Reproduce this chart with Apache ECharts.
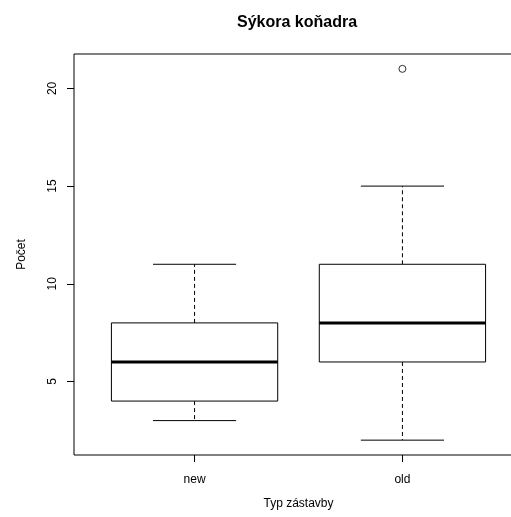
<!DOCTYPE html>
<html>
<head>
<meta charset="utf-8">
<script src="https://cdn.jsdelivr.net/npm/echarts@6/dist/echarts.min.js"></script>
<style>
  html, body { margin: 0; padding: 0; background: #fff; }
  #chart { width: 511px; height: 517px; }
</style>
</head>
<body>
<div id="chart"></div>
<script>
// Building types on the x axis
const categories = ['new', 'old'];
// Five-number summaries per group: [min, Q1, median, Q3, max]
const boxStats = [
  [3, 4, 6, 8, 11],
  [2, 6, 8, 11, 15]
];
// Outlying observations: [group index, value]
const outliers = [[1, 21]];
// Tick positions on the count axis
const yTicks = [5, 10, 15, 20];

const FONT = 'Liberation Sans, Arial, sans-serif';

const boxData = boxStats.map((s, i) => [i + 1].concat(s));
const outlierData = outliers.map(o => [o[0] + 1, o[1]]);

function renderBox(params, api) {
  const x = api.value(0);
  const vmin = api.value(1), q1 = api.value(2), med = api.value(3), q3 = api.value(4), vmax = api.value(5);
  const half = 0.4, capHalf = 0.2;
  const pL = api.coord([x - half, q1]);
  const pR = api.coord([x + half, q3]);
  const c = api.coord([x, med]);
  const cL = api.coord([x - capHalf, vmin])[0];
  const cR = api.coord([x + capHalf, vmin])[0];
  const yMin = api.coord([x, vmin])[1];
  const yMax = api.coord([x, vmax])[1];
  const yQ1 = pL[1], yQ3 = pR[1];
  const dashed = { stroke: '#000', lineWidth: 1, lineDash: [4, 3] };
  const solid = { stroke: '#000', lineWidth: 1 };
  return {
    type: 'group',
    children: [
      { type: 'line', shape: { x1: c[0], y1: yQ3, x2: c[0], y2: yMax }, style: dashed },
      { type: 'line', shape: { x1: c[0], y1: yQ1, x2: c[0], y2: yMin }, style: dashed },
      { type: 'line', shape: { x1: cL, y1: yMax, x2: cR, y2: yMax }, style: solid },
      { type: 'line', shape: { x1: cL, y1: yMin, x2: cR, y2: yMin }, style: solid },
      { type: 'rect', shape: { x: pL[0], y: yQ3, width: pR[0] - pL[0], height: yQ1 - yQ3 },
        style: { fill: '#fff', stroke: '#000', lineWidth: 1 } },
      { type: 'line', shape: { x1: pL[0], y1: c[1], x2: pR[0], y2: c[1] },
        style: { stroke: '#000', lineWidth: 3 } }
    ]
  };
}

const chart = echarts.init(document.getElementById('chart'), null, { renderer: 'canvas' });
chart.setOption({
  animation: false,
  backgroundColor: '#fff',
  graphic: [{
    type: 'text',
    x: 297,
    y: 23,
    style: {
      text: 'Sýkora koňadra',
      align: 'center',
      verticalAlign: 'middle',
      font: 'bold 16px Liberation Sans, Arial, sans-serif',
      fill: '#000'
    }
  }],
  grid: {
    left: 74, top: 54, width: 449, height: 401,
    outerBoundsMode: 'none',
    containLabel: false,
    show: true, borderColor: '#000', borderWidth: 1, backgroundColor: 'transparent'
  },
  xAxis: {
    type: 'value',
    min: 0.42, max: 2.58,
    name: 'Typ zástavby',
    nameLocation: 'middle',
    nameGap: 43,
    nameTextStyle: { fontFamily: FONT, fontSize: 12, color: '#000' },
    splitLine: { show: false },
    axisLine: { show: false },
    axisTick: { show: true, customValues: [1, 2], length: 7, lineStyle: { color: '#000' } },
    axisLabel: {
      customValues: [1, 2],
      formatter: v => categories[Math.round(v) - 1],
      margin: 19,
      fontFamily: FONT, fontSize: 12, color: '#000'
    }
  },
  yAxis: {
    type: 'value',
    min: 1.24, max: 21.76,
    name: 'Počet',
    nameLocation: 'middle',
    nameGap: 46,
    nameTextStyle: { fontFamily: FONT, fontSize: 12, color: '#000' },
    splitLine: { show: false },
    axisLine: { show: false },
    axisTick: { show: true, customValues: yTicks, length: 7, lineStyle: { color: '#000' } },
    axisLabel: {
      customValues: yTicks,
      rotate: 90,
      margin: 15,
      fontFamily: FONT, fontSize: 12, color: '#000'
    }
  },
  series: [
    {
      type: 'custom',
      renderItem: renderBox,
      encode: { x: 0, y: [1, 2, 3, 4, 5] },
      data: boxData,
      clip: false
    },
    {
      type: 'scatter',
      symbol: 'circle',
      symbolSize: 7,
      itemStyle: { color: 'rgba(255,255,255,0)', borderColor: '#000', borderWidth: 1 },
      data: outlierData
    }
  ]
});
</script>
</body>
</html>
